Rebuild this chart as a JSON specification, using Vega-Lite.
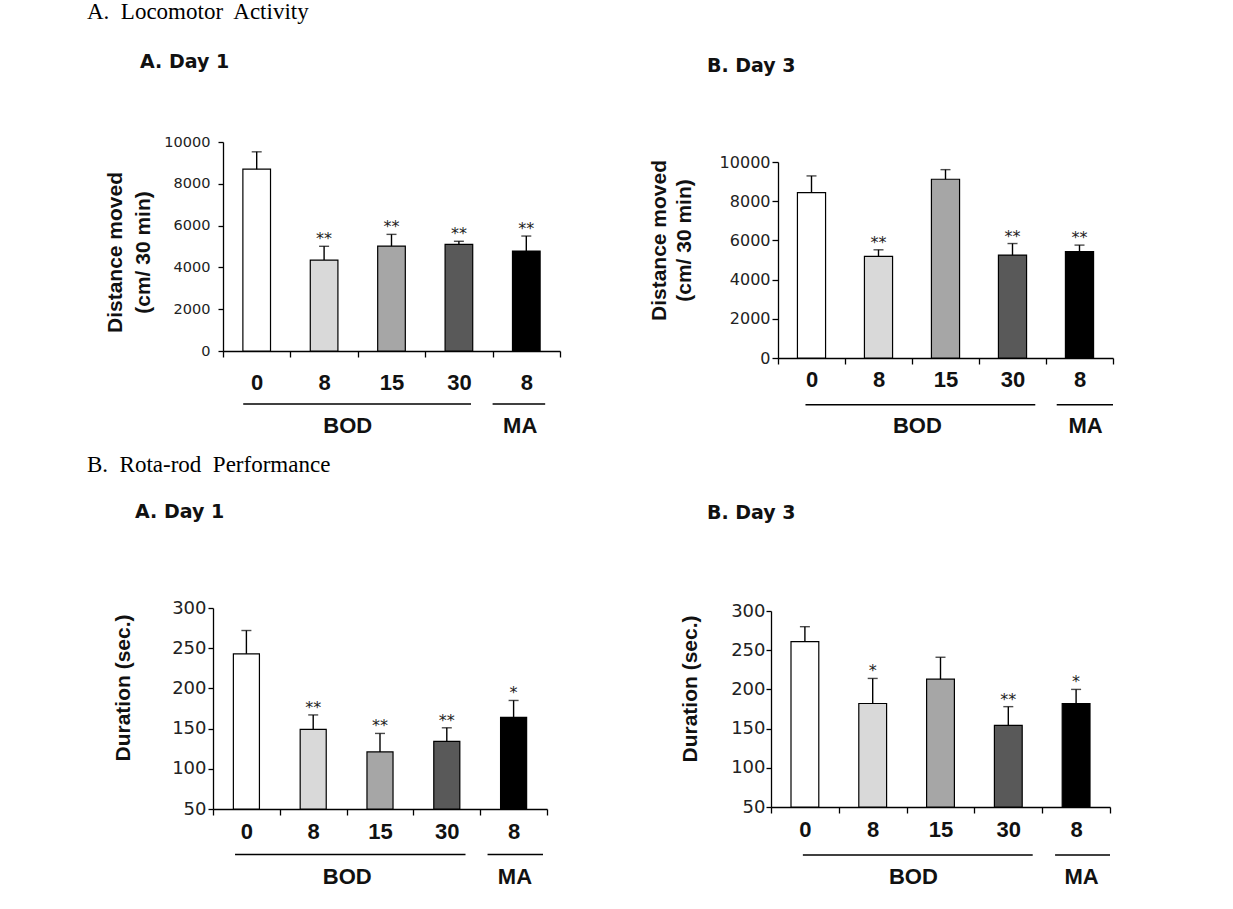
{
  "$schema": "https://vega.github.io/schema/vega-lite/v6.json",
  "background": "white",
  "padding": {"left": 87, "top": 1, "right": 5, "bottom": 5},
  "config": {"view": {"stroke": null}, "font": "Liberation Sans"},
  "datasets": {
    "loco1": [
      {"dose": "BOD 0", "mean": 8700, "upper": 9530, "sig": ""},
      {"dose": "BOD 8", "mean": 4350, "upper": 5010, "sig": "**"},
      {"dose": "BOD 15", "mean": 5020, "upper": 5580, "sig": "**"},
      {"dose": "BOD 30", "mean": 5100, "upper": 5250, "sig": "**"},
      {"dose": "MA 8", "mean": 4780, "upper": 5500, "sig": "**"}
    ],
    "loco3": [
      {"dose": "BOD 0", "mean": 8440, "upper": 9290, "sig": ""},
      {"dose": "BOD 8", "mean": 5180, "upper": 5520, "sig": "**"},
      {"dose": "BOD 15", "mean": 9120, "upper": 9610, "sig": ""},
      {"dose": "BOD 30", "mean": 5250, "upper": 5840, "sig": "**"},
      {"dose": "MA 8", "mean": 5430, "upper": 5760, "sig": "**"}
    ],
    "rota1": [
      {"dose": "BOD 0", "mean": 243, "upper": 272, "sig": ""},
      {"dose": "BOD 8", "mean": 149, "upper": 167, "sig": "**"},
      {"dose": "BOD 15", "mean": 121, "upper": 144, "sig": "**"},
      {"dose": "BOD 30", "mean": 134, "upper": 151, "sig": "**"},
      {"dose": "MA 8", "mean": 164, "upper": 185, "sig": "*"}
    ],
    "rota3": [
      {"dose": "BOD 0", "mean": 261, "upper": 280, "sig": ""},
      {"dose": "BOD 8", "mean": 182, "upper": 214, "sig": "*"},
      {"dose": "BOD 15", "mean": 213, "upper": 241, "sig": ""},
      {"dose": "BOD 30", "mean": 154, "upper": 178, "sig": "**"},
      {"dose": "MA 8", "mean": 182, "upper": 200, "sig": "*"}
    ],
    "groups": [
      {"group": "BOD", "first": "BOD 0", "last": "BOD 30", "mid": "BOD 15"},
      {"group": "MA", "first": "MA 8", "last": "MA 8", "mid": "MA 8"}
    ]
  },
  "vconcat": [
    {
      "title": {"text": "A.\u00a0 Locomotor\u00a0 Activity", "anchor": "start", "frame": "group", "dx": -126, "offset": 11, "baseline": "alphabetic", "font": "Liberation Serif", "fontSize": 23, "fontWeight": "normal", "color": "#000"},
      "bounds": "flush",
      "spacing": 211,
      "hconcat": [
        {
          "width": 347, "height": 209,
          "title": {"text": "A. Day 1", "anchor": "start", "frame": "group", "dx": -73, "offset": 47, "baseline": "alphabetic", "font": "DejaVu Sans", "fontSize": 19, "fontWeight": "bold", "color": "#111"},
          "layer": [
            {"data": {"name": "loco1"}, "mark": {"type": "bar", "width": {"band": 0.41}, "stroke": "#000", "strokeWidth": 1.2},
             "encoding": {
               "x": {"field": "dose", "type": "nominal", "scale": {"domain": ["BOD 0","BOD 8","BOD 15","BOD 30","MA 8"], "range": [10, 347], "paddingInner": 0, "paddingOuter": 0},
                     "axis": {"title": null, "tickBand": "extent", "tickSize": 6, "labelPadding": 15, "labelFont": "Liberation Sans", "labelFontSize": 22, "labelFontWeight": "bold", "labelColor": "#111", "labelAngle": 0, "labelExpr": "split(datum.label, ' ')[1]", "domainColor": "#000", "domainWidth": 1.3, "tickColor": "#000", "tickWidth": 1.3}},
               "y": {"field": "mean", "type": "quantitative", "scale": {"domain": [0, 10000], "nice": false},
                     "axis": {"title": ["Distance moved", "(cm/ 30 min)"], "values": [0, 2000, 4000, 6000, 8000, 10000], "tickCount": 10, "format": "d", "grid": false, "labelOverlap": false, "offset": -10, "tickSize": 5, "labelPadding": 8, "labelFont": "DejaVu Sans", "labelFontSize": 14.5, "labelColor": "#222", "titleFont": "Liberation Sans", "titleFontSize": 21, "titleFontWeight": "bold", "titleColor": "#111", "titleLineHeight": 28, "titleX": -98, "titleY": 110, "domainColor": "#000", "domainWidth": 1.3, "tickColor": "#000", "tickWidth": 1.3}},
               "color": {"field": "dose", "type": "nominal", "scale": {"domain": ["BOD 0","BOD 8","BOD 15","BOD 30","MA 8"], "range": ["#ffffff","#d9d9d9","#a6a6a6","#595959","#000000"]}, "legend": null}
             }},
            {"data": {"name": "loco1"}, "mark": {"type": "rule", "strokeWidth": 1.4, "color": "#000"},
             "encoding": {
               "x": {"field": "dose", "type": "nominal", "scale": {"domain": ["BOD 0","BOD 8","BOD 15","BOD 30","MA 8"], "range": [10, 347], "paddingInner": 0, "paddingOuter": 0}},
               "y": {"field": "mean", "type": "quantitative", "scale": {"domain": [0, 10000], "nice": false}},
               "y2": {"field": "upper"}
             }},
            {"data": {"name": "loco1"}, "mark": {"type": "tick", "orient": "horizontal", "size": 10, "thickness": 1.4, "color": "#000"},
             "encoding": {
               "x": {"field": "dose", "type": "nominal", "scale": {"domain": ["BOD 0","BOD 8","BOD 15","BOD 30","MA 8"], "range": [10, 347], "paddingInner": 0, "paddingOuter": 0}},
               "y": {"field": "upper", "type": "quantitative", "scale": {"domain": [0, 10000], "nice": false}}
             }},
            {"data": {"name": "loco1"}, "mark": {"type": "text", "font": "DejaVu Sans", "fontSize": 16, "baseline": "alphabetic", "dy": -2, "color": "#222"},
             "encoding": {
               "x": {"field": "dose", "type": "nominal", "scale": {"domain": ["BOD 0","BOD 8","BOD 15","BOD 30","MA 8"], "range": [10, 347], "paddingInner": 0, "paddingOuter": 0}},
               "y": {"field": "upper", "type": "quantitative", "scale": {"domain": [0, 10000], "nice": false}},
               "text": {"field": "sig"}
             }},
            {"data": {"name": "groups"}, "transform": [{"filter": "datum.group === 'BOD'"}], "mark": {"type": "rule", "strokeWidth": 1.5, "color": "#000"},
             "encoding": {
               "x": {"field": "first", "type": "nominal", "bandPosition": 0.3, "scale": {"domain": ["BOD 0","BOD 8","BOD 15","BOD 30","MA 8"], "range": [10, 347], "paddingInner": 0, "paddingOuter": 0}},
               "x2": {"field": "last", "bandPosition": 0.68},
               "y": {"datum": -2536, "type": "quantitative", "scale": {"domain": [0, 10000], "nice": false}}
             }},
            {"data": {"name": "groups"}, "transform": [{"filter": "datum.group === 'MA'"}], "mark": {"type": "rule", "strokeWidth": 1.5, "color": "#000"},
             "encoding": {
               "x": {"field": "first", "type": "nominal", "bandPosition": 0, "scale": {"domain": ["BOD 0","BOD 8","BOD 15","BOD 30","MA 8"], "range": [10, 347], "paddingInner": 0, "paddingOuter": 0}},
               "x2": {"field": "last", "bandPosition": 0.78},
               "y": {"datum": -2536, "type": "quantitative", "scale": {"domain": [0, 10000], "nice": false}}
             }},
            {"data": {"name": "groups"}, "transform": [{"filter": "datum.group === 'BOD'"}], "mark": {"type": "text", "font": "Liberation Sans", "fontSize": 22, "fontWeight": "bold", "baseline": "middle", "color": "#111"},
             "encoding": {
               "x": {"field": "mid", "type": "nominal", "bandPosition": -0.15, "scale": {"domain": ["BOD 0","BOD 8","BOD 15","BOD 30","MA 8"], "range": [10, 347], "paddingInner": 0, "paddingOuter": 0}},
               "y": {"datum": -3600, "type": "quantitative", "scale": {"domain": [0, 10000], "nice": false}},
               "text": {"field": "group"}
             }},
            {"data": {"name": "groups"}, "transform": [{"filter": "datum.group === 'MA'"}], "mark": {"type": "text", "font": "Liberation Sans", "fontSize": 22, "fontWeight": "bold", "baseline": "middle", "color": "#111"},
             "encoding": {
               "x": {"field": "mid", "type": "nominal", "bandPosition": 0.41, "scale": {"domain": ["BOD 0","BOD 8","BOD 15","BOD 30","MA 8"], "range": [10, 347], "paddingInner": 0, "paddingOuter": 0}},
               "y": {"datum": -3600, "type": "quantitative", "scale": {"domain": [0, 10000], "nice": false}},
               "text": {"field": "group"}
             }}
          ]
        },
        {
          "width": 342, "height": 216,
          "title": {"text": "B. Day 3", "anchor": "start", "frame": "group", "dx": -64, "offset": 51, "baseline": "alphabetic", "font": "DejaVu Sans", "fontSize": 19, "fontWeight": "bold", "color": "#111"},
          "layer": [
            {"data": {"name": "loco3"}, "mark": {"type": "bar", "width": {"band": 0.42}, "stroke": "#000", "strokeWidth": 1.2},
             "encoding": {
               "x": {"field": "dose", "type": "nominal", "scale": {"domain": ["BOD 0","BOD 8","BOD 15","BOD 30","MA 8"], "range": [7, 342], "paddingInner": 0, "paddingOuter": 0},
                     "axis": {"title": null, "tickBand": "extent", "tickSize": 6, "labelPadding": 5.5, "labelFont": "Liberation Sans", "labelFontSize": 22, "labelFontWeight": "bold", "labelColor": "#111", "labelAngle": 0, "labelExpr": "split(datum.label, ' ')[1]", "domainColor": "#000", "domainWidth": 1.3, "tickColor": "#000", "tickWidth": 1.3}},
               "y": {"field": "mean", "type": "quantitative", "scale": {"domain": [0, 10000], "nice": false, "range": [216, 20]},
                     "axis": {"title": ["Distance moved", "(cm/ 30 min)"], "values": [0, 2000, 4000, 6000, 8000, 10000], "tickCount": 10, "format": "d", "grid": false, "labelOverlap": false, "offset": -7, "tickSize": 6, "labelPadding": 2, "labelFont": "DejaVu Sans", "labelFontSize": 16, "labelColor": "#222", "titleFont": "Liberation Sans", "titleFontSize": 21, "titleFontWeight": "bold", "titleColor": "#111", "titleLineHeight": 25, "titleX": -109, "titleY": 98, "domainColor": "#000", "domainWidth": 1.3, "tickColor": "#000", "tickWidth": 1.3}},
               "color": {"field": "dose", "type": "nominal", "scale": {"domain": ["BOD 0","BOD 8","BOD 15","BOD 30","MA 8"], "range": ["#ffffff","#d9d9d9","#a6a6a6","#595959","#000000"]}, "legend": null}
             }},
            {"data": {"name": "loco3"}, "mark": {"type": "rule", "strokeWidth": 1.4, "color": "#000"},
             "encoding": {
               "x": {"field": "dose", "type": "nominal", "scale": {"domain": ["BOD 0","BOD 8","BOD 15","BOD 30","MA 8"], "range": [7, 342], "paddingInner": 0, "paddingOuter": 0}},
               "y": {"field": "mean", "type": "quantitative", "scale": {"domain": [0, 10000], "nice": false, "range": [216, 20]}},
               "y2": {"field": "upper"}
             }},
            {"data": {"name": "loco3"}, "mark": {"type": "tick", "orient": "horizontal", "size": 10, "thickness": 1.4, "color": "#000"},
             "encoding": {
               "x": {"field": "dose", "type": "nominal", "scale": {"domain": ["BOD 0","BOD 8","BOD 15","BOD 30","MA 8"], "range": [7, 342], "paddingInner": 0, "paddingOuter": 0}},
               "y": {"field": "upper", "type": "quantitative", "scale": {"domain": [0, 10000], "nice": false, "range": [216, 20]}}
             }},
            {"data": {"name": "loco3"}, "mark": {"type": "text", "font": "DejaVu Sans", "fontSize": 16, "baseline": "alphabetic", "dy": -2, "color": "#222"},
             "encoding": {
               "x": {"field": "dose", "type": "nominal", "scale": {"domain": ["BOD 0","BOD 8","BOD 15","BOD 30","MA 8"], "range": [7, 342], "paddingInner": 0, "paddingOuter": 0}},
               "y": {"field": "upper", "type": "quantitative", "scale": {"domain": [0, 10000], "nice": false, "range": [216, 20]}},
               "text": {"field": "sig"}
             }},
            {"data": {"name": "groups"}, "transform": [{"filter": "datum.group === 'BOD'"}], "mark": {"type": "rule", "strokeWidth": 1.5, "color": "#000"},
             "encoding": {
               "x": {"field": "first", "type": "nominal", "bandPosition": 0.41, "scale": {"domain": ["BOD 0","BOD 8","BOD 15","BOD 30","MA 8"], "range": [7, 342], "paddingInner": 0, "paddingOuter": 0}},
               "x2": {"field": "last", "bandPosition": 0.84},
               "y": {"datum": -2380, "type": "quantitative", "scale": {"domain": [0, 10000], "nice": false, "range": [216, 20]}}
             }},
            {"data": {"name": "groups"}, "transform": [{"filter": "datum.group === 'MA'"}], "mark": {"type": "rule", "strokeWidth": 1.5, "color": "#000"},
             "encoding": {
               "x": {"field": "first", "type": "nominal", "bandPosition": 0.16, "scale": {"domain": ["BOD 0","BOD 8","BOD 15","BOD 30","MA 8"], "range": [7, 342], "paddingInner": 0, "paddingOuter": 0}},
               "x2": {"field": "last", "bandPosition": 1},
               "y": {"datum": -2380, "type": "quantitative", "scale": {"domain": [0, 10000], "nice": false, "range": [216, 20]}}
             }},
            {"data": {"name": "groups"}, "transform": [{"filter": "datum.group === 'BOD'"}], "mark": {"type": "text", "font": "Liberation Sans", "fontSize": 22, "fontWeight": "bold", "baseline": "middle", "color": "#111"},
             "encoding": {
               "x": {"field": "mid", "type": "nominal", "bandPosition": 0.08, "scale": {"domain": ["BOD 0","BOD 8","BOD 15","BOD 30","MA 8"], "range": [7, 342], "paddingInner": 0, "paddingOuter": 0}},
               "y": {"datum": -3460, "type": "quantitative", "scale": {"domain": [0, 10000], "nice": false, "range": [216, 20]}},
               "text": {"field": "group"}
             }},
            {"data": {"name": "groups"}, "transform": [{"filter": "datum.group === 'MA'"}], "mark": {"type": "text", "font": "Liberation Sans", "fontSize": 22, "fontWeight": "bold", "baseline": "middle", "color": "#111"},
             "encoding": {
               "x": {"field": "mid", "type": "nominal", "bandPosition": 0.59, "scale": {"domain": ["BOD 0","BOD 8","BOD 15","BOD 30","MA 8"], "range": [7, 342], "paddingInner": 0, "paddingOuter": 0}},
               "y": {"datum": -3460, "type": "quantitative", "scale": {"domain": [0, 10000], "nice": false, "range": [216, 20]}},
               "text": {"field": "group"}
             }}
          ]
        }
      ]
    },
    {
      "title": {"text": "B.\u00a0 Rota-rod\u00a0 Performance", "anchor": "start", "frame": "group", "dx": -126, "offset": 8, "baseline": "alphabetic", "font": "Liberation Serif", "fontSize": 23, "fontWeight": "normal", "color": "#000"},
      "bounds": "flush",
      "spacing": 224,
      "hconcat": [
        {
          "width": 334, "height": 201,
          "title": {"text": "A. Day 1", "anchor": "start", "frame": "group", "dx": -78, "offset": 62, "baseline": "alphabetic", "font": "DejaVu Sans", "fontSize": 19, "fontWeight": "bold", "color": "#111"},
          "layer": [
            {"data": {"name": "rota1"}, "mark": {"type": "bar", "width": {"band": 0.39}, "stroke": "#000", "strokeWidth": 1.2},
             "encoding": {
               "x": {"field": "dose", "type": "nominal", "scale": {"domain": ["BOD 0","BOD 8","BOD 15","BOD 30","MA 8"], "paddingInner": 0, "paddingOuter": 0},
                     "axis": {"title": null, "tickBand": "extent", "tickSize": 6, "labelPadding": 6, "labelFont": "Liberation Sans", "labelFontSize": 22, "labelFontWeight": "bold", "labelColor": "#111", "labelAngle": 0, "labelExpr": "split(datum.label, ' ')[1]", "domainColor": "#000", "domainWidth": 1.3, "tickColor": "#000", "tickWidth": 1.3}},
               "y": {"field": "mean", "type": "quantitative", "scale": {"domain": [50, 300], "nice": false, "zero": false},
                     "axis": {"title": "Duration (sec.)", "values": [50, 100, 150, 200, 250, 300], "tickCount": 10, "format": "d", "grid": false, "labelOverlap": false, "tickSize": 5, "labelPadding": 2, "labelFont": "DejaVu Sans", "labelFontSize": 18, "labelColor": "#222", "titleFont": "Liberation Sans", "titleFontSize": 21, "titleFontWeight": "bold", "titleColor": "#111", "titleX": -80, "titleY": 79.5, "domainColor": "#000", "domainWidth": 1.3, "tickColor": "#000", "tickWidth": 1.3}},
               "y2": {"datum": 50},
               "color": {"field": "dose", "type": "nominal", "scale": {"domain": ["BOD 0","BOD 8","BOD 15","BOD 30","MA 8"], "range": ["#ffffff","#d9d9d9","#a6a6a6","#595959","#000000"]}, "legend": null}
             }},
            {"data": {"name": "rota1"}, "mark": {"type": "rule", "strokeWidth": 1.4, "color": "#000"},
             "encoding": {
               "x": {"field": "dose", "type": "nominal", "scale": {"domain": ["BOD 0","BOD 8","BOD 15","BOD 30","MA 8"], "paddingInner": 0, "paddingOuter": 0}},
               "y": {"field": "mean", "type": "quantitative", "scale": {"domain": [50, 300], "nice": false, "zero": false}},
               "y2": {"field": "upper"}
             }},
            {"data": {"name": "rota1"}, "mark": {"type": "tick", "orient": "horizontal", "size": 10, "thickness": 1.4, "color": "#000"},
             "encoding": {
               "x": {"field": "dose", "type": "nominal", "scale": {"domain": ["BOD 0","BOD 8","BOD 15","BOD 30","MA 8"], "paddingInner": 0, "paddingOuter": 0}},
               "y": {"field": "upper", "type": "quantitative", "scale": {"domain": [50, 300], "nice": false, "zero": false}}
             }},
            {"data": {"name": "rota1"}, "mark": {"type": "text", "font": "DejaVu Sans", "fontSize": 16, "baseline": "alphabetic", "dy": -2, "color": "#222"},
             "encoding": {
               "x": {"field": "dose", "type": "nominal", "scale": {"domain": ["BOD 0","BOD 8","BOD 15","BOD 30","MA 8"], "paddingInner": 0, "paddingOuter": 0}},
               "y": {"field": "upper", "type": "quantitative", "scale": {"domain": [50, 300], "nice": false, "zero": false}},
               "text": {"field": "sig"}
             }},
            {"data": {"name": "groups"}, "transform": [{"filter": "datum.group === 'BOD'"}], "mark": {"type": "rule", "strokeWidth": 1.5, "color": "#000"},
             "encoding": {
               "x": {"field": "first", "type": "nominal", "bandPosition": 0.33, "scale": {"domain": ["BOD 0","BOD 8","BOD 15","BOD 30","MA 8"], "paddingInner": 0, "paddingOuter": 0}},
               "x2": {"field": "last", "bandPosition": 0.78},
               "y": {"datum": -6.7, "type": "quantitative", "scale": {"domain": [50, 300], "nice": false, "zero": false}}
             }},
            {"data": {"name": "groups"}, "transform": [{"filter": "datum.group === 'MA'"}], "mark": {"type": "rule", "strokeWidth": 1.5, "color": "#000"},
             "encoding": {
               "x": {"field": "first", "type": "nominal", "bandPosition": 0.11, "scale": {"domain": ["BOD 0","BOD 8","BOD 15","BOD 30","MA 8"], "paddingInner": 0, "paddingOuter": 0}},
               "x2": {"field": "last", "bandPosition": 0.94},
               "y": {"datum": -6.7, "type": "quantitative", "scale": {"domain": [50, 300], "nice": false, "zero": false}}
             }},
            {"data": {"name": "groups"}, "transform": [{"filter": "datum.group === 'BOD'"}], "mark": {"type": "text", "font": "Liberation Sans", "fontSize": 22, "fontWeight": "bold", "baseline": "middle", "color": "#111"},
             "encoding": {
               "x": {"field": "mid", "type": "nominal", "bandPosition": 0.01, "scale": {"domain": ["BOD 0","BOD 8","BOD 15","BOD 30","MA 8"], "paddingInner": 0, "paddingOuter": 0}},
               "y": {"datum": -34, "type": "quantitative", "scale": {"domain": [50, 300], "nice": false, "zero": false}},
               "text": {"field": "group"}
             }},
            {"data": {"name": "groups"}, "transform": [{"filter": "datum.group === 'MA'"}], "mark": {"type": "text", "font": "Liberation Sans", "fontSize": 22, "fontWeight": "bold", "baseline": "middle", "color": "#111"},
             "encoding": {
               "x": {"field": "mid", "type": "nominal", "bandPosition": 0.52, "scale": {"domain": ["BOD 0","BOD 8","BOD 15","BOD 30","MA 8"], "paddingInner": 0, "paddingOuter": 0}},
               "y": {"datum": -34, "type": "quantitative", "scale": {"domain": [50, 300], "nice": false, "zero": false}},
               "text": {"field": "group"}
             }}
          ]
        },
        {
          "width": 339, "height": 199,
          "title": {"text": "B. Day 3", "anchor": "start", "frame": "group", "dx": -64, "offset": 64, "baseline": "alphabetic", "font": "DejaVu Sans", "fontSize": 19, "fontWeight": "bold", "color": "#111"},
          "layer": [
            {"data": {"name": "rota3"}, "mark": {"type": "bar", "width": {"band": 0.41}, "stroke": "#000", "strokeWidth": 1.2},
             "encoding": {
               "x": {"field": "dose", "type": "nominal", "scale": {"domain": ["BOD 0","BOD 8","BOD 15","BOD 30","MA 8"], "paddingInner": 0, "paddingOuter": 0},
                     "axis": {"title": null, "tickBand": "extent", "tickSize": 6, "labelPadding": 6, "labelFont": "Liberation Sans", "labelFontSize": 22, "labelFontWeight": "bold", "labelColor": "#111", "labelAngle": 0, "labelExpr": "split(datum.label, ' ')[1]", "domainColor": "#000", "domainWidth": 1.3, "tickColor": "#000", "tickWidth": 1.3}},
               "y": {"field": "mean", "type": "quantitative", "scale": {"domain": [50, 300], "nice": false, "zero": false, "range": [199, 3]},
                     "axis": {"title": "Duration (sec.)", "values": [50, 100, 150, 200, 250, 300], "tickCount": 10, "format": "d", "grid": false, "labelOverlap": false, "tickSize": 5, "labelPadding": 1, "labelFont": "DejaVu Sans", "labelFontSize": 18, "labelColor": "#222", "titleFont": "Liberation Sans", "titleFontSize": 21, "titleFontWeight": "bold", "titleColor": "#111", "titleX": -71, "titleY": 80.5, "domainColor": "#000", "domainWidth": 1.3, "tickColor": "#000", "tickWidth": 1.3}},
               "y2": {"datum": 50},
               "color": {"field": "dose", "type": "nominal", "scale": {"domain": ["BOD 0","BOD 8","BOD 15","BOD 30","MA 8"], "range": ["#ffffff","#d9d9d9","#a6a6a6","#595959","#000000"]}, "legend": null}
             }},
            {"data": {"name": "rota3"}, "mark": {"type": "rule", "strokeWidth": 1.4, "color": "#000"},
             "encoding": {
               "x": {"field": "dose", "type": "nominal", "scale": {"domain": ["BOD 0","BOD 8","BOD 15","BOD 30","MA 8"], "paddingInner": 0, "paddingOuter": 0}},
               "y": {"field": "mean", "type": "quantitative", "scale": {"domain": [50, 300], "nice": false, "zero": false, "range": [199, 3]}},
               "y2": {"field": "upper"}
             }},
            {"data": {"name": "rota3"}, "mark": {"type": "tick", "orient": "horizontal", "size": 10, "thickness": 1.4, "color": "#000"},
             "encoding": {
               "x": {"field": "dose", "type": "nominal", "scale": {"domain": ["BOD 0","BOD 8","BOD 15","BOD 30","MA 8"], "paddingInner": 0, "paddingOuter": 0}},
               "y": {"field": "upper", "type": "quantitative", "scale": {"domain": [50, 300], "nice": false, "zero": false, "range": [199, 3]}}
             }},
            {"data": {"name": "rota3"}, "mark": {"type": "text", "font": "DejaVu Sans", "fontSize": 16, "baseline": "alphabetic", "dy": -2, "color": "#222"},
             "encoding": {
               "x": {"field": "dose", "type": "nominal", "scale": {"domain": ["BOD 0","BOD 8","BOD 15","BOD 30","MA 8"], "paddingInner": 0, "paddingOuter": 0}},
               "y": {"field": "upper", "type": "quantitative", "scale": {"domain": [50, 300], "nice": false, "zero": false, "range": [199, 3]}},
               "text": {"field": "sig"}
             }},
            {"data": {"name": "groups"}, "transform": [{"filter": "datum.group === 'BOD'"}], "mark": {"type": "rule", "strokeWidth": 1.5, "color": "#000"},
             "encoding": {
               "x": {"field": "first", "type": "nominal", "bandPosition": 0.47, "scale": {"domain": ["BOD 0","BOD 8","BOD 15","BOD 30","MA 8"], "paddingInner": 0, "paddingOuter": 0}},
               "x2": {"field": "last", "bandPosition": 0.86},
               "y": {"datum": -11.2, "type": "quantitative", "scale": {"domain": [50, 300], "nice": false, "zero": false, "range": [199, 3]}}
             }},
            {"data": {"name": "groups"}, "transform": [{"filter": "datum.group === 'MA'"}], "mark": {"type": "rule", "strokeWidth": 1.5, "color": "#000"},
             "encoding": {
               "x": {"field": "first", "type": "nominal", "bandPosition": 0.19, "scale": {"domain": ["BOD 0","BOD 8","BOD 15","BOD 30","MA 8"], "paddingInner": 0, "paddingOuter": 0}},
               "x2": {"field": "last", "bandPosition": 1},
               "y": {"datum": -11.2, "type": "quantitative", "scale": {"domain": [50, 300], "nice": false, "zero": false, "range": [199, 3]}}
             }},
            {"data": {"name": "groups"}, "transform": [{"filter": "datum.group === 'BOD'"}], "mark": {"type": "text", "font": "Liberation Sans", "fontSize": 22, "fontWeight": "bold", "baseline": "middle", "color": "#111"},
             "encoding": {
               "x": {"field": "mid", "type": "nominal", "bandPosition": 0.1, "scale": {"domain": ["BOD 0","BOD 8","BOD 15","BOD 30","MA 8"], "paddingInner": 0, "paddingOuter": 0}},
               "y": {"datum": -38.9, "type": "quantitative", "scale": {"domain": [50, 300], "nice": false, "zero": false, "range": [199, 3]}},
               "text": {"field": "group"}
             }},
            {"data": {"name": "groups"}, "transform": [{"filter": "datum.group === 'MA'"}], "mark": {"type": "text", "font": "Liberation Sans", "fontSize": 22, "fontWeight": "bold", "baseline": "middle", "color": "#111"},
             "encoding": {
               "x": {"field": "mid", "type": "nominal", "bandPosition": 0.58, "scale": {"domain": ["BOD 0","BOD 8","BOD 15","BOD 30","MA 8"], "paddingInner": 0, "paddingOuter": 0}},
               "y": {"datum": -38.9, "type": "quantitative", "scale": {"domain": [50, 300], "nice": false, "zero": false, "range": [199, 3]}},
               "text": {"field": "group"}
             }}
          ]
        }
      ]
    }
  ],
  "spacing": 16
}
